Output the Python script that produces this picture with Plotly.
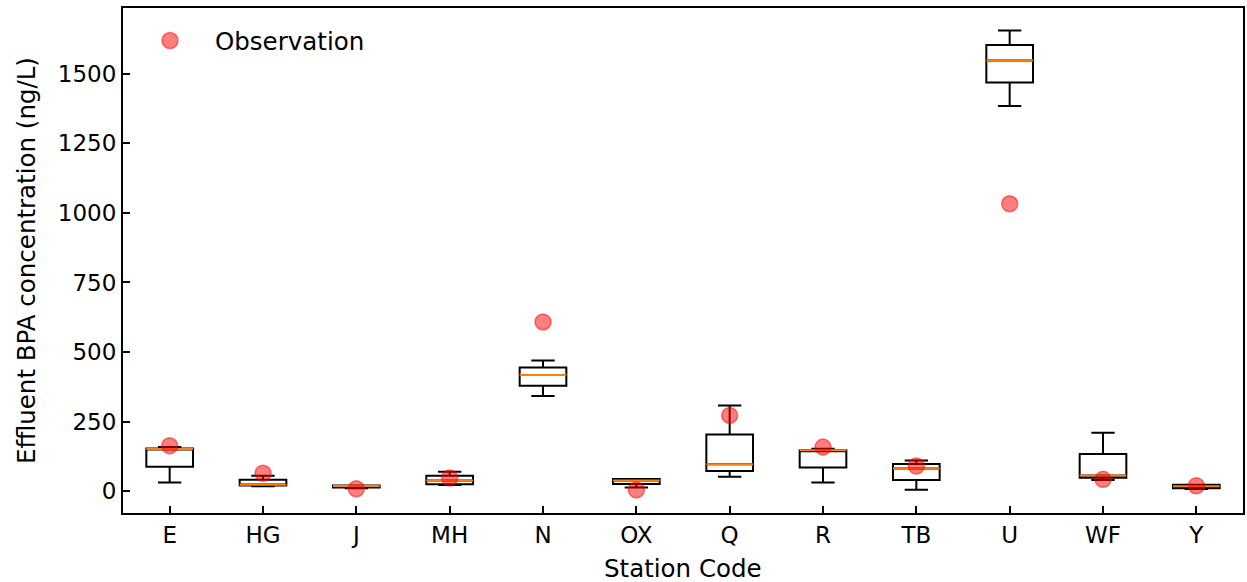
import plotly.graph_objects as go

stations = ["E", "HG", "J", "MH", "N", "OX", "Q", "R", "TB", "U", "WF", "Y"]
q1 = [87, 20, 13, 24, 379, 25, 72, 85, 40, 1469, 48, 10]
median = [151, 23, 18, 38, 417, 38, 96, 147, 81, 1548, 56, 17]
q3 = [153, 41, 20, 55, 444, 43, 203, 147, 97, 1604, 133, 23]
lower = [31, 17, 10, 22, 342, 13, 51, 31, 5, 1385, 40, 7]
upper = [158, 55, 20, 69, 469, 43, 308, 152, 110, 1656, 210, 23]
observation = [163, 64, 8, 47, 608, 4, 272, 158, 90, 1033, 42, 19]

pos = list(range(1, len(stations) + 1))
FONT = "DejaVu Sans"
TICK_FS = 23
TITLE_FS = 24.5

fig = go.Figure()
fig.add_trace(go.Box(
    x=pos, q1=q1, median=median, q3=q3, lowerfence=lower, upperfence=upper,
    width=0.5, whiskerwidth=0.5, boxpoints=False,
    line=dict(color="black", width=2), fillcolor="rgba(255,255,255,0)",
    showlegend=False, hoverinfo="skip",
))

mx, my = [], []
for p, m in zip(pos, median):
    mx += [p - 0.25, p + 0.25, None]
    my += [m, m, None]
fig.add_trace(go.Scatter(x=mx, y=my, mode="lines",
                         line=dict(color="#ff7f0e", width=2),
                         showlegend=False, hoverinfo="skip"))

fig.add_trace(go.Scatter(
    x=pos, y=observation, mode="markers", name="Observation",
    marker=dict(color="rgba(255,0,0,0.5)", size=16,
                line=dict(color="rgba(255,0,0,0.5)", width=1.5)),
))

axis_common = dict(
    showline=True, linecolor="black", linewidth=2, mirror=True,
    ticks="inside", ticklen=7, tickwidth=2, tickcolor="black",
    showgrid=False, zeroline=False,
    tickfont=dict(family=FONT, size=TICK_FS, color="black"),
)
fig.update_xaxes(
    **axis_common, range=[0.5, 12.5], tickmode="array",
    tickvals=pos, ticktext=stations,
)
fig.update_yaxes(
    **axis_common, range=[-79, 1737], tickmode="array",
    tickvals=[0, 250, 500, 750, 1000, 1250, 1500],
    title=dict(text="Effluent BPA concentration (ng/L)", font=dict(family=FONT, size=TITLE_FS, color="black"), standoff=15),
)
fig.add_annotation(
    text="Station Code", xref="paper", yref="paper", x=0.5, y=-0.109,
    xanchor="center", yanchor="middle", showarrow=False,
    font=dict(family=FONT, size=TITLE_FS, color="black"),
)
fig.update_layout(
    width=1247, height=582,
    margin=dict(l=123, r=2, t=8, b=69),
    plot_bgcolor="white", paper_bgcolor="white",
    font=dict(family=FONT, size=TICK_FS, color="black"),
    legend=dict(x=0.0018, y=0.98, xanchor="left", yanchor="top",
                bgcolor="rgba(0,0,0,0)", font=dict(family=FONT, size=TITLE_FS, color="black"),
                itemwidth=80),
)
fig.write_html("out.html")
